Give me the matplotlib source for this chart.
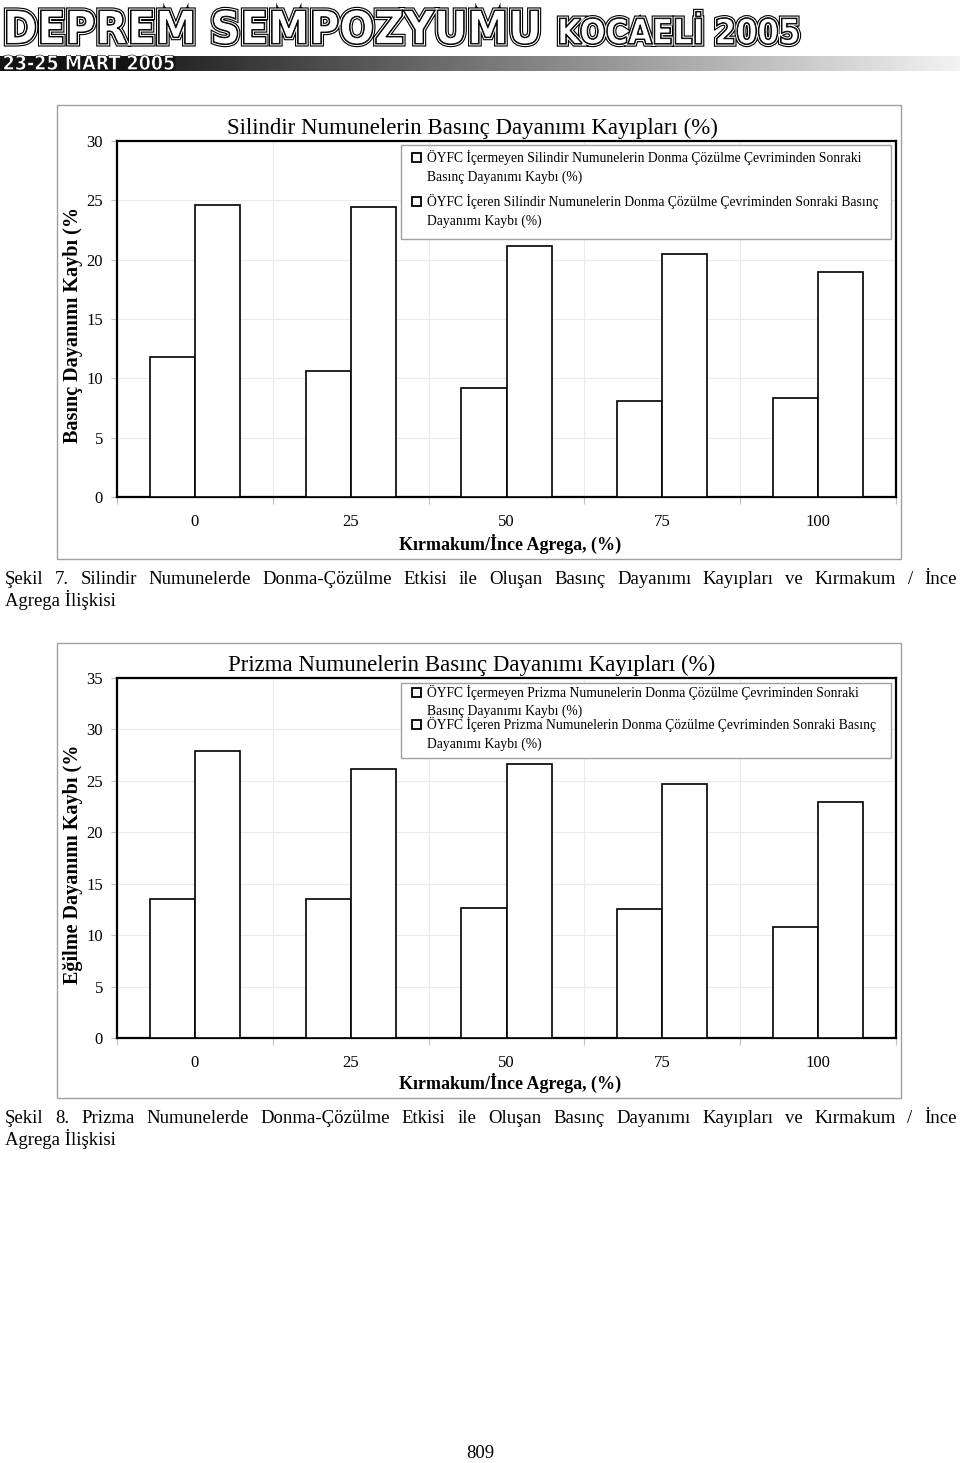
import numpy as np
import matplotlib
matplotlib.use('Agg')
import matplotlib.pyplot as plt
import matplotlib.patheffects as pe
from matplotlib.patches import Rectangle, PathPatch
from matplotlib.textpath import TextPath
from matplotlib.font_manager import FontProperties
from matplotlib.transforms import Affine2D

# data (loss %, without / with fibre)
categories = ['0', '25', '50', '75', '100']
silindir_free = [11.8, 10.6, 9.2, 8.1, 8.35]
silindir_fc = [24.6, 24.4, 21.15, 20.5, 19.0]
prizma_free = [13.5, 13.5, 12.6, 12.5, 10.75]
prizma_fc = [27.9, 26.2, 26.6, 24.7, 22.9]

silindir_labels = ['ÖYFC İçermeyen Silindir Numunelerin Donma Çözülme Çevriminden Sonraki',
                   'Basınç Dayanımı Kaybı (%)',
                   'ÖYFC İçeren Silindir Numunelerin Donma Çözülme Çevriminden Sonraki Basınç',
                   'Dayanımı Kaybı (%)']
prizma_labels = ['ÖYFC İçermeyen Prizma Numunelerin Donma Çözülme Çevriminden Sonraki',
                 'Basınç Dayanımı Kaybı (%)',
                 'ÖYFC İçeren Prizma Numunelerin Donma Çözülme Çevriminden Sonraki Basınç',
                 'Dayanımı Kaybı (%)']

W, H = 960, 1463
SERIF = 'Liberation Serif'

fig = plt.figure(figsize=(W / 100, H / 100), dpi=100)
fig.patch.set_facecolor('white')


def fx(x):
    return x / W


def fy(y):
    return 1 - y / H


def box_text(s, x0, y0, x1, y1, weight='bold', **kw):
    # text path stretched into a pixel box (top-left origin)
    tp = TextPath((0, 0), s, size=1, prop=FontProperties(family='DejaVu Sans', weight=weight))
    ext = tp.get_extents()
    sx = (x1 - x0) / ext.width / W
    sy = (y1 - y0) / ext.height / H
    tr = Affine2D().translate(-ext.x0, -ext.y0).scale(sx, sy).translate(fx(x0), fy(y1)) + fig.transFigure
    fig.add_artist(PathPatch(tp, transform=tr, **kw))


##header
inline = [pe.Stroke(linewidth=4.6, foreground='black'), pe.Stroke(linewidth=3.0, foreground='white'),
          pe.Stroke(linewidth=1.5, foreground='black'), pe.Normal()]
box_text('DEPREM SEMPOZYUMU', 7, 10, 538, 44, facecolor='white', edgecolor='black', lw=0.6, path_effects=inline)
box_text('KOCAELİ 2005', 560, 12, 798, 44, facecolor='white', edgecolor='black', lw=0.6, path_effects=inline)

gx = np.linspace(0, W, 400)
grad = np.where(gx < 175, 0.08, 0.15 + 0.8 * (gx - 175) / (W - 175))
gax = fig.add_axes([0, fy(71), 1, 15 / H])
gax.imshow(grad[None, :], cmap='gray', vmin=0, vmax=1, aspect='auto', extent=(0, W, 0, 1))
gax.axis('off')
box_text('23-25 MART 2005', 4, 55, 174, 70, facecolor='white', edgecolor='black', lw=0.4)


def draw_chart(top, bottom, box_top, box_bottom, title, title_y, ylabel, ylabel_y, ymax,
               free, fc, labels, leg_top, leg_bottom, leg_lines, xlabel_y):
    fig.add_artist(Rectangle((fx(57), fy(box_bottom)), fx(901) - fx(57), fy(box_top) - fy(box_bottom),
                             transform=fig.transFigure, fill=False, edgecolor='#a0a0a0', lw=1))
    ax = fig.add_axes([fx(117), fy(bottom), fx(896) - fx(117), fy(top) - fy(bottom)])
    x = np.arange(len(categories))
    w = 0.29
    ax.bar(x - w, free, w, align='edge', color='white', edgecolor='black', lw=1.2, zorder=3)
    ax.bar(x, fc, w, align='edge', color='white', edgecolor='black', lw=1.2, zorder=3)
    ax.set_xlim(-0.5, len(categories) - 0.5)
    ax.set_ylim(0, ymax)
    ax.set_yticks(range(0, ymax + 1, 5))
    ax.set_xticks(np.arange(-0.5, len(categories), 1))
    ax.set_xticks(x, minor=True)
    ax.set_xticklabels(categories, minor=True)
    ax.tick_params(axis='x', which='major', length=5, color='#c0c0c0', labelbottom=False)
    ax.tick_params(axis='x', which='minor', length=0, pad=12, labelsize=12)
    ax.tick_params(axis='y', length=4, color='#c0c0c0', pad=6, labelsize=12)
    for lab in ax.get_xticklabels(minor=True) + ax.get_yticklabels():
        lab.set_fontfamily(SERIF)
    ax.grid(True, which='major', color='#ebebeb', lw=0.8, zorder=0)
    for sp in ax.spines.values():
        sp.set_linewidth(1.6)
        sp.set_color('black')

    fig.text(fx(472), fy(title_y), title, ha='center', va='center', family=SERIF, size=16.5)
    fig.text(fx(73), fy(ylabel_y), ylabel, ha='center', va='center', rotation=90,
             family=SERIF, weight='bold', size=14.5)
    fig.text(fx(510), fy(xlabel_y), 'Kırmakum/İnce Agrega, (%)', ha='center', va='center',
             family=SERIF, weight='bold', size=13)

    # legend box drawn by hand so the marker sits on the first line
    fig.add_artist(Rectangle((fx(401), fy(leg_bottom)), fx(891) - fx(401), fy(leg_top) - fy(leg_bottom),
                             transform=fig.transFigure, facecolor='white', edgecolor='#a0a0a0', lw=1))
    for i, (lab, ly) in enumerate(zip(labels, leg_lines)):
        if i % 2 == 0:
            fig.add_artist(Rectangle((fx(412), fy(ly + 4.5)), 9 / W, 9 / H, transform=fig.transFigure,
                                     facecolor='white', edgecolor='black', lw=1.3))
        fig.text(fx(427), fy(ly), lab, ha='left', va='center', family=SERIF, size=9.8)
    return ax


draw_chart(141, 497, 105, 559, 'Silindir Numunelerin Basınç Dayanımı Kayıpları (%)', 128,
           'Basınç Dayanımı Kaybı (%', 325, 30, silindir_free, silindir_fc, silindir_labels,
           145, 239, [157, 177, 201, 221], 544)
draw_chart(678, 1038, 643, 1098, 'Prizma Numunelerin Basınç Dayanımı Kayıpları (%)', 665,
           'Eğilme Dayanımı Kaybı (%', 864, 35, prizma_free, prizma_fc, prizma_labels,
           683, 758, [692, 711, 724, 744], 1083)

renderer = fig.canvas.get_renderer()


def justified(words, y, x0=5, x1=957, size=13.5):
    texts = [fig.text(0, fy(y), wd, ha='left', va='baseline', family=SERIF, size=size) for wd in words]
    widths = [t.get_window_extent(renderer).width for t in texts]
    gap = (x1 - x0 - sum(widths)) / (len(words) - 1)
    pos = x0
    for t, wd in zip(texts, widths):
        t.set_x(fx(pos))
        pos += wd + gap


justified('Şekil 7. Silindir Numunelerde Donma-Çözülme Etkisi ile Oluşan Basınç Dayanımı Kayıpları ve Kırmakum / İnce'.split(), 584)
fig.text(fx(5), fy(606), 'Agrega İlişkisi', ha='left', va='baseline', family=SERIF, size=13.5)
justified('Şekil 8. Prizma Numunelerde Donma-Çözülme Etkisi ile Oluşan Basınç Dayanımı Kayıpları ve Kırmakum / İnce'.split(), 1123)
fig.text(fx(5), fy(1145), 'Agrega İlişkisi', ha='left', va='baseline', family=SERIF, size=13.5)

fig.text(fx(480), fy(1458), '809', ha='center', va='baseline', family=SERIF, size=13.5)

fig.savefig('out.png', dpi=100)
